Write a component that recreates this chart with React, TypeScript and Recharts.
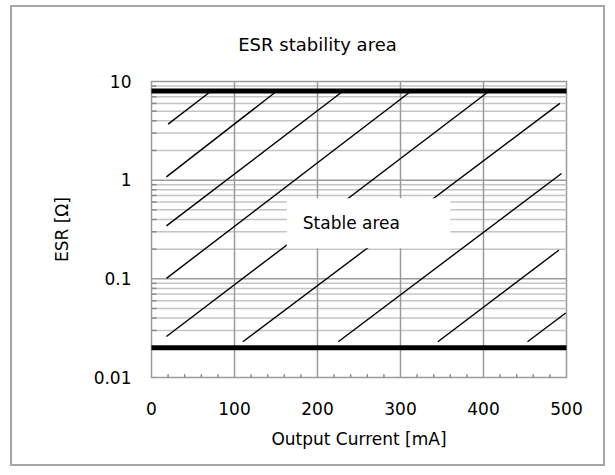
import React from 'react';
import { LineChart, Line, XAxis, YAxis, ReferenceLine, ReferenceArea, Label } from 'recharts';

const currentTicks = [0, 100, 200, 300, 400, 500];
const esrTicks = [0.01, 0.1, 1, 10];
const gridCurrent = [100, 200, 300, 400];
const gridEsr = [0.1, 1];
const minorEsr = [
    0.02, 0.03, 0.04, 0.05, 0.06, 0.07, 0.08, 0.09,
    0.2, 0.3, 0.4, 0.5, 0.6, 0.7, 0.8, 0.9,
    2, 3, 4, 5, 6, 7, 8, 9,
];
const minorCurrent = [
    20, 40, 60, 80, 120, 140, 160, 180, 220, 240, 260, 280,
    320, 340, 360, 380, 420, 440, 460, 480,
];

// stable region limits
const limitEsr = [8, 0.02];

// hatch lines, start and end of each
const hatchStartCurrent = [20, 18, 18, 18, 18, 110, 225, 345, 453];
const hatchStartEsr = [3.7, 1.08, 0.344, 0.101, 0.026, 0.023, 0.023, 0.023, 0.023];
const hatchEndCurrent = [72, 151, 231, 313, 407, 492, 494, 491, 499];
const hatchEndEsr = [8, 8, 8, 8, 8, 6.0, 1.17, 0.196, 0.045];

const boxCurrent = [163, 360];
const boxEsr = [0.204, 0.655];

const font = '"DejaVu Sans", Verdana, sans-serif';

const hatchLines = hatchStartCurrent.map((x, i) => [
    { x, y: hatchStartEsr[i] },
    { x: hatchEndCurrent[i], y: hatchEndEsr[i] },
]);

export default function App() {
    return (
        <div style={{ position: 'absolute', left: 0, top: 0, width: 615, height: 475, background: '#fff', fontFamily: font }}>
            <div style={{ position: 'absolute', left: 10, top: 5, width: 595, height: 461, border: '2px solid #a6a6a6', boxSizing: 'border-box' }} />
            <div style={{ position: 'absolute', left: 0, width: 615, top: 34, textAlign: 'center', fontSize: 18, color: '#000', paddingLeft: 10 }}>
                ESR stability area
            </div>
            <div style={{ position: 'absolute', left: 0, top: 0 }}>
                <LineChart width={615} height={475} data={[]} margin={{ top: 81.5, right: 48.5, bottom: 27.5, left: 0 }}>
                    <XAxis
                        dataKey="x"
                        type="number"
                        domain={[0, 500]}
                        ticks={currentTicks}
                        axisLine={false}
                        tickLine={false}
                        tickSize={0}
                        tickMargin={25}
                        height={70}
                        tick={{ fill: '#000', fontSize: 17, fontFamily: font }}
                    >
                        <Label value="Output Current [mA]" position="insideBottom" offset={3} fill="#000" fontSize={17} fontFamily={font} />
                    </XAxis>
                    <YAxis
                        dataKey="y"
                        scale="log"
                        domain={[0.01, 10]}
                        ticks={esrTicks}
                        allowDataOverflow
                        axisLine={false}
                        tickLine={false}
                        tickSize={0}
                        tickMargin={20}
                        width={151.5}
                        tick={{ fill: '#000', fontSize: 17, fontFamily: font }}
                    >
                        <Label value="ESR [Ω]" angle={-90} position="center" dx={-14} fill="#000" fontSize={17} fontFamily={font} />
                    </YAxis>

                    {minorEsr.map(v => (
                        <ReferenceLine key={'m' + v} y={v} stroke="#c4c4c4" strokeWidth={1.5} />
                    ))}
                    {gridEsr.map(v => (
                        <ReferenceLine key={'g' + v} y={v} stroke="#9a9a9a" strokeWidth={1.5} />
                    ))}
                    {gridCurrent.map(v => (
                        <ReferenceLine key={'v' + v} x={v} stroke="#9a9a9a" strokeWidth={1.5} />
                    ))}
                    {minorEsr.map(v => (
                        <ReferenceLine key={'t' + v} segment={[{ x: 0, y: v }, { x: 6, y: v }]} stroke="#8a8a8a" strokeWidth={1.5} />
                    ))}
                    {minorCurrent.map(v => (
                        <ReferenceLine key={'xt' + v} segment={[{ x: v, y: 0.01 }, { x: v, y: 0.0108 }]} stroke="#8a8a8a" strokeWidth={1.5} />
                    ))}
                    <ReferenceArea x1={0} x2={500} y1={0.01} y2={10} fill="none" stroke="#9a9a9a" strokeWidth={1.5} />

                    {hatchLines.map((d, i) => (
                        <Line
                            key={'h' + i}
                            data={d}
                            dataKey="y"
                            type="linear"
                            stroke="#000"
                            strokeWidth={1.4}
                            dot={false}
                            activeDot={false}
                            isAnimationActive={false}
                        />
                    ))}

                    <ReferenceArea
                        x1={boxCurrent[0]}
                        x2={boxCurrent[1]}
                        y1={boxEsr[0]}
                        y2={boxEsr[1]}
                        fill="#fff"
                        fillOpacity={1}
                        stroke="none"
                        zIndex={450}
                        label={{ value: 'Stable area', position: 'insideLeft', offset: 16, fill: '#000', fontSize: 17, fontFamily: font }}
                    />

                    {limitEsr.map(v => (
                        <ReferenceLine key={'l' + v} y={v} stroke="#000" strokeWidth={5} zIndex={460} />
                    ))}
                </LineChart>
            </div>
        </div>
    );
}
